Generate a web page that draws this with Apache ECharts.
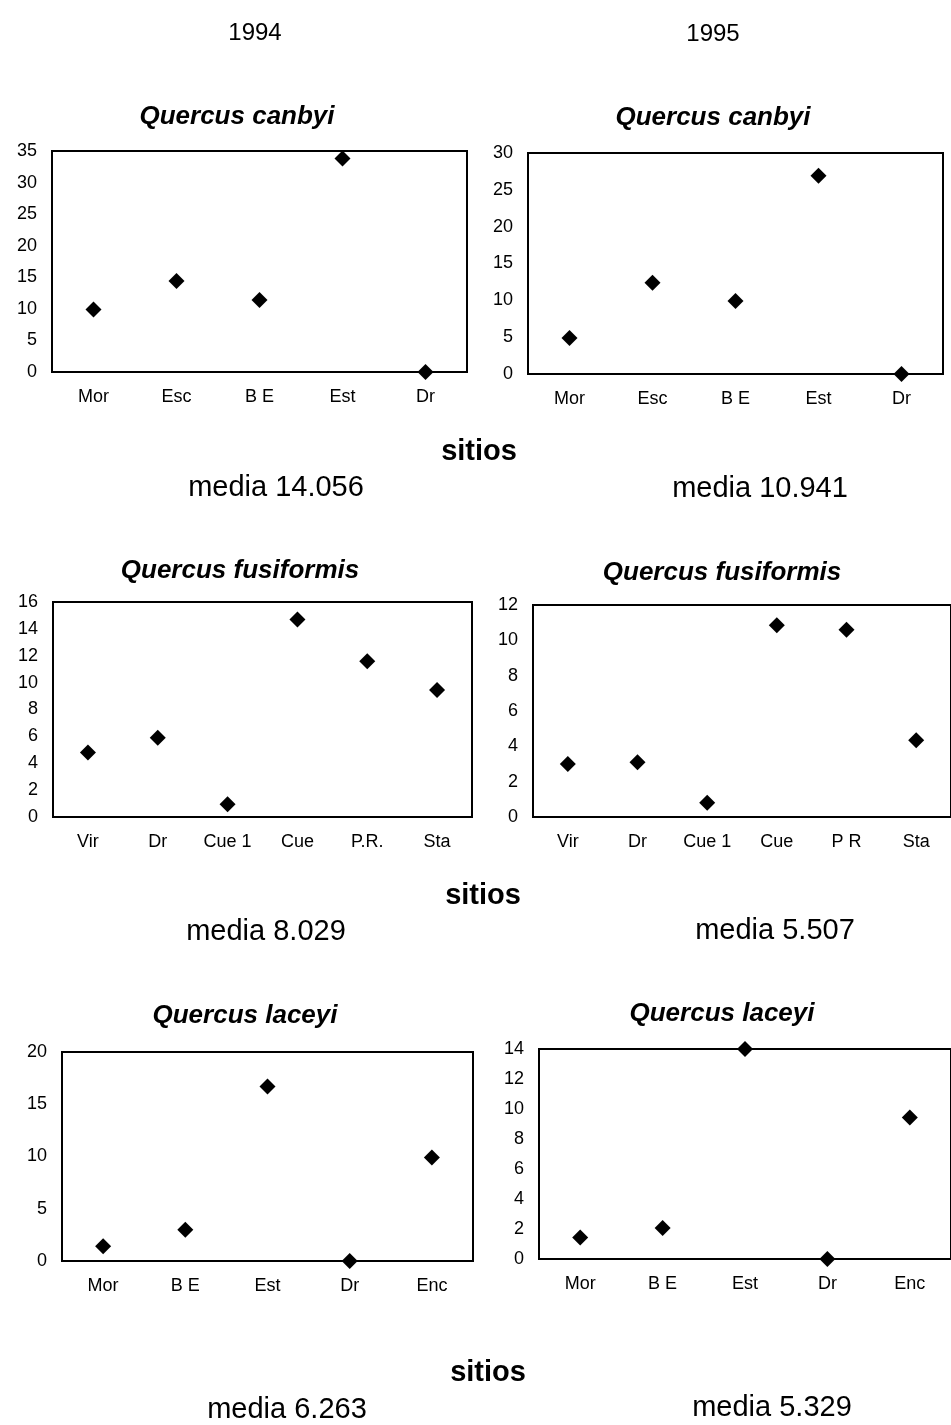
<!DOCTYPE html>
<html>
<head>
<meta charset="utf-8">
<script src="https://cdn.jsdelivr.net/npm/echarts@6/dist/echarts.min.js"></script>
<style>
  html, body { margin: 0; padding: 0; background: #fff; }
  #chart { width: 951px; height: 1425px; }
</style>
</head>
<body>
<div id="chart"></div>
<script>
// sitios y valores
const sitesCanbyi = ['Mor', 'Esc', 'B E', 'Est', 'Dr'];
const canbyi1994 = [9.9, 14.4, 11.4, 33.8, 0];
const canbyi1995 = [4.9, 12.4, 9.9, 26.9, 0];

const sitesFus1994 = ['Vir', 'Dr', 'Cue 1', 'Cue', 'P.R.', 'Sta'];
const sitesFus1995 = ['Vir', 'Dr', 'Cue 1', 'Cue', 'P R', 'Sta'];
const fusiformis1994 = [4.8, 5.9, 0.95, 14.7, 11.6, 9.45];
const fusiformis1995 = [3.0, 3.1, 0.8, 10.85, 10.6, 4.35];

const sitesLaceyi = ['Mor', 'B E', 'Est', 'Dr', 'Enc'];
const laceyi1994 = [1.4, 3.0, 16.7, 0, 9.9];
const laceyi1995 = [1.44, 2.06, 14.0, 0, 9.43];

const yMax = [35, 30, 16, 12, 20, 14];
const yStep = [5, 5, 2, 2, 5, 2];
const medias = ['media 14.056', 'media 10.941', 'media 8.029', 'media 5.507', 'media 6.263', 'media 5.329'];

const FONT = '"Liberation Sans", Arial, sans-serif';

let panels = [
  { grid: { left: 52, top: 151, width: 415, height: 221 }, cats: sitesCanbyi, data: canbyi1994 },
  { grid: { left: 528, top: 153, width: 415, height: 221 }, cats: sitesCanbyi, data: canbyi1995 },
  { grid: { left: 53, top: 602, width: 419, height: 215 }, cats: sitesFus1994, data: fusiformis1994 },
  { grid: { left: 533, top: 605, width: 423, height: 212 }, cats: sitesFus1995, data: fusiformis1995 },
  { grid: { left: 62, top: 1052, width: 411, height: 209 }, cats: sitesLaceyi, data: laceyi1994 },
  { grid: { left: 539, top: 1049, width: 415, height: 210 }, cats: sitesLaceyi, data: laceyi1995 }
];

function txt(x, y, text, size, weight, style) {
  return {
    type: 'text', x: x, y: y, silent: true,
    style: {
      text: text,
      font: (style || 'normal') + ' ' + (weight || 'normal') + ' ' + size + 'px ' + FONT,
      fill: '#000',
      textAlign: 'center',
      textVerticalAlign: 'middle',
      align: 'center',
      verticalAlign: 'middle'
    }
  };
}

let graphics = [
  txt(255, 33, '1994', 24),
  txt(713, 34, '1995', 24),
  txt(237, 117, 'Quercus canbyi', 26, 'bold', 'italic'),
  txt(713, 118, 'Quercus canbyi', 26, 'bold', 'italic'),
  txt(240, 571, 'Quercus fusiformis', 26, 'bold', 'italic'),
  txt(722, 573, 'Quercus fusiformis', 26, 'bold', 'italic'),
  txt(245, 1016, 'Quercus laceyi', 26, 'bold', 'italic'),
  txt(722, 1014, 'Quercus laceyi', 26, 'bold', 'italic'),
  txt(479, 452, 'sitios', 29, 'bold'),
  txt(483, 896, 'sitios', 29, 'bold'),
  txt(488, 1373, 'sitios', 29, 'bold'),
  txt(276, 488, medias[0], 29),
  txt(760, 489, medias[1], 29),
  txt(266, 932, medias[2], 29),
  txt(775, 931, medias[3], 29),
  txt(287, 1410, medias[4], 29),
  txt(772, 1408, medias[5], 29)
];

let option = {
  backgroundColor: '#fff',
  animation: false,
  textStyle: { fontFamily: FONT },
  grid: [],
  xAxis: [],
  yAxis: [],
  series: [],
  graphic: { elements: graphics }
};

panels.forEach(function (p, i) {
  option.grid.push(Object.assign({
    show: true,
    borderColor: '#000',
    borderWidth: 2,
    backgroundColor: 'transparent',
    containLabel: false
  }, p.grid));
  option.xAxis.push({
    type: 'category',
    gridIndex: i,
    data: p.cats,
    boundaryGap: true,
    axisLine: { show: true, lineStyle: { color: '#000', width: 2 } },
    axisTick: { show: false },
    axisLabel: { color: '#000', fontSize: 18, margin: 16, fontFamily: FONT },
    splitLine: { show: false }
  });
  option.yAxis.push({
    type: 'value',
    gridIndex: i,
    min: 0,
    max: yMax[i],
    interval: yStep[i],
    axisLine: { show: true, lineStyle: { color: '#000', width: 2 } },
    axisTick: { show: false },
    axisLabel: { color: '#000', fontSize: 18, margin: 15, fontFamily: FONT },
    splitLine: { show: false }
  });
  option.series.push({
    type: 'scatter',
    xAxisIndex: i,
    yAxisIndex: i,
    symbol: 'diamond',
    symbolSize: 16,
    clip: false,
    itemStyle: { color: '#000', opacity: 1 },
    data: p.data
  });
});

let myChart = echarts.init(document.getElementById('chart'));
myChart.setOption(option);
</script>
</body>
</html>
